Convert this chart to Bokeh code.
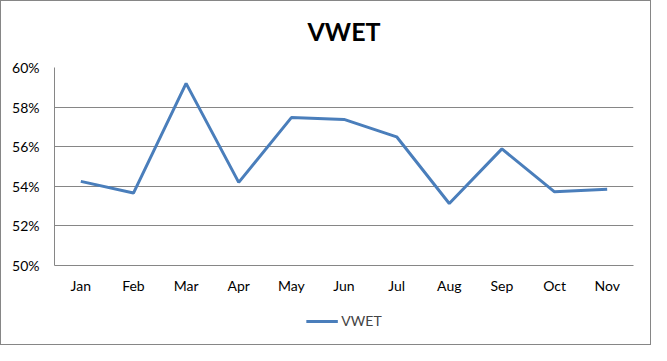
from bokeh.plotting import figure
from bokeh.layouts import column
from bokeh.models import (FactorRange, Range1d, FixedTicker, NumeralTickFormatter,
                          Legend, LegendItem, ColumnDataSource, Title)
from bokeh.embed import file_html
from bokeh.resources import INLINE

months = ["Jan", "Feb", "Mar", "Apr", "May", "Jun", "Jul", "Aug", "Sep", "Oct", "Nov"]
vwet = [0.5425, 0.5366, 0.5920, 0.5420, 0.5747, 0.5738, 0.5650, 0.5313, 0.5589, 0.5372, 0.5385]
y_ticks = [0.50, 0.52, 0.54, 0.56, 0.58, 0.60]
series_name = "VWET"

FONT = "Lato"
GRID = "#868686"
LINE = "#4a7ebb"

src = ColumnDataSource(dict(month=months, value=vwet))

p = figure(width=651, height=296, output_backend="svg", toolbar_location=None,
           x_range=FactorRange(*months, range_padding=0.0),
           y_range=Range1d(0.50, 0.60),
           min_border_left=54, min_border_right=18, min_border_top=67, min_border_bottom=24)

p.title.text = series_name
p.title.align = "center"
p.title.text_font = FONT
p.title.text_font_size = "25px"
p.title.text_font_style = "bold"
p.title.text_color = "#000000"
p.title.standoff = 4

# blank spacer between the title and the plot area
p.add_layout(Title(text=" ", text_font_size="10px", standoff=7), "above")

p.outline_line_color = None
p.background_fill_color = None
p.border_fill_color = None

r = p.line("month", "value", source=src, line_color=LINE, line_width=3)

p.yaxis.ticker = FixedTicker(ticks=y_ticks)
p.yaxis.formatter = NumeralTickFormatter(format="0%")
for ax in (p.xaxis[0], p.yaxis[0]):
    ax.axis_line_color = GRID
    ax.major_tick_line_color = None
    ax.minor_tick_line_color = None
    ax.major_label_text_font = FONT
    ax.major_label_text_font_size = "14px"
    ax.major_label_text_color = "#000000"
p.yaxis.major_label_standoff = 9
p.xaxis.major_label_standoff = 5

p.xgrid.grid_line_color = None
p.ygrid.ticker = FixedTicker(ticks=y_ticks)
p.ygrid.grid_line_color = GRID
p.ygrid.grid_line_width = 1

# legend strip below the chart; its sample line uses the real series,
# which lies outside this strip's y-range so only the legend is visible
lg = figure(width=651, height=49, output_backend="svg", toolbar_location=None,
            x_range=p.x_range, y_range=Range1d(0, 0.1),
            x_axis_location=None, y_axis_location=None, min_border=0)
lg.outline_line_color = None
lg.xgrid.grid_line_color = None
lg.ygrid.grid_line_color = None
lg.background_fill_color = None
lg.border_fill_color = None
sample = lg.line("month", "value", source=src, line_color=LINE, line_width=3)
legend = Legend(items=[LegendItem(label=series_name, renderers=[sample])],
                orientation="horizontal", location="center",
                label_text_font=FONT, label_text_font_size="14px",
                glyph_width=32, label_standoff=4, border_line_color=None,
                background_fill_alpha=0, padding=4, margin=0)
lg.add_layout(legend, "center")

layout = column(p, lg, spacing=0,
                styles={"outline": "1px solid #868686", "outline-offset": "-1px",
                        "background-color": "white"})

open("out.html", "w").write(file_html(layout, INLINE))
